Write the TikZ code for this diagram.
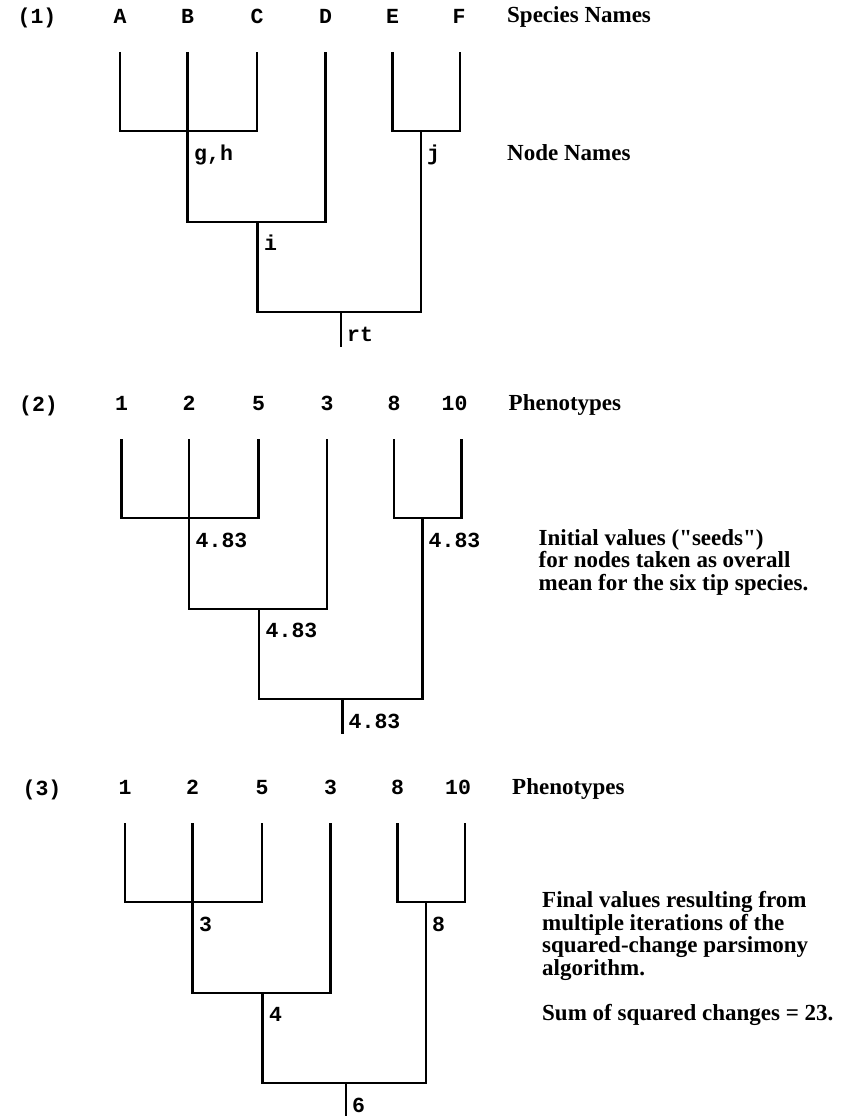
\documentclass[tikz,border=0pt]{standalone}
\usepackage{fontspec}
\setmainfont{Liberation Serif}[Ligatures=TeXOff]
\newfontfamily\codefont{Liberation Mono}
\usetikzlibrary{positioning}
\tikzset{branch/.style={line width=2.4pt},
  tiplab/.style={font=\codefont\bfseries\fontsize{21.5}{22}\selectfont,inner sep=0pt,anchor=base},
  nodelab/.style={tiplab,anchor=base west},
  heading/.style={font=\bfseries\fontsize{23}{22.4}\selectfont,inner sep=0pt,anchor=base west,align=left},
  note/.style={heading}}
% one six-tip tree, tips at y=0 of the current scope
\newcommand\cladogram[1]{%
  \coordinate (#1a) at (120,0); \coordinate (#1b) at (187.5,0); \coordinate (#1c) at (257,0);
  \coordinate (#1d) at (325.5,0); \coordinate (#1e) at (392.5,0); \coordinate (#1f) at (460,0);
  \coordinate (#1gh) at (187.5,79); \coordinate (#1j) at (421,79);
  \coordinate (#1i) at (257.5,170); \coordinate (#1rt) at (341,260); \coordinate (#1stem) at (341,295);
  \draw[branch] (#1a) |- (#1gh) -| (#1c);
  \draw[branch] (#1b) |- (#1i) -| (#1d);
  \draw[branch] (#1e) |- (#1j) -| (#1f);
  \draw[branch] (#1i) |- (#1rt) -| (#1j);
  \draw[branch] (#1rt) -- (#1stem);}
\begin{document}
\begin{tikzpicture}[x=1pt,y=-1pt]
\useasboundingbox (0,0) rectangle (847,1116);
% (1) names
\begin{scope}[shift={(0,52)}]
\cladogram{p1}
\node[tiplab] (p1num) at (37,-28) {(1)};
\foreach \x/\t [count=\k] in {120/A,187.5/B,257/C,325.5/D,392.5/E,459/F}
  \node[tiplab] (p1tip\k) at (\x,-28.5) {\t};
\node[nodelab] (p1ghlab) at (194,108) {g,h};
\node[nodelab] (p1jlab) at (427,108) {j};
\node[nodelab] (p1ilab) at (264,198) {i};
\node[nodelab] (p1rtlab) at (347,289) {rt};
\node[heading] (p1head) at (507,-29) {Species Names};
\node[heading] (p1nodes) at (507,108) {Node Names};
\end{scope}
% (2) seeds
\begin{scope}[shift={(1.5,439)}]
\cladogram{p2}
\node[tiplab] (p2num) at (37,-28) {(2)};
\foreach \x/\t [count=\k] in {120/1,187.5/2,257/5,325.5/3,392.5/8,453/10}
  \node[tiplab] (p2tip\k) at (\x,-28.5) {\t};
\node[nodelab] (p2ghlab) at (194,108) {4.83};
\node[nodelab] (p2jlab) at (427,108) {4.83};
\node[nodelab] (p2ilab) at (264,198) {4.83};
\node[nodelab] (p2rtlab) at (347,289) {4.83};
\node[heading] (p2head) at (507,-29) {Phenotypes};
% base anchor sits on the last line
\node[note] (p2note) at (537,151) {Initial values ("seeds")\\for nodes taken as overall\\mean for the six tip species.};
\end{scope}
% (3) final
\begin{scope}[shift={(5,823)}]
\cladogram{p3}
\node[tiplab] (p3num) at (37,-28) {(3)};
\foreach \x/\t [count=\k] in {120/1,187.5/2,257/5,325.5/3,392.5/8,453/10}
  \node[tiplab] (p3tip\k) at (\x,-28.5) {\t};
\node[nodelab] (p3ghlab) at (194,108) {3};
\node[nodelab] (p3jlab) at (427,108) {8};
\node[nodelab] (p3ilab) at (264,198) {4};
\node[nodelab] (p3rtlab) at (347,289) {6};
\node[heading] (p3head) at (507,-29) {Phenotypes};
\node[note] (p3note) at (537,152) {Final values resulting from\\multiple iterations of the\\squared-change parsimony\\algorithm.};
\node[note] (p3sum) at (537,197) {Sum of squared changes = 23.};
\end{scope}
\end{tikzpicture}
\end{document}
